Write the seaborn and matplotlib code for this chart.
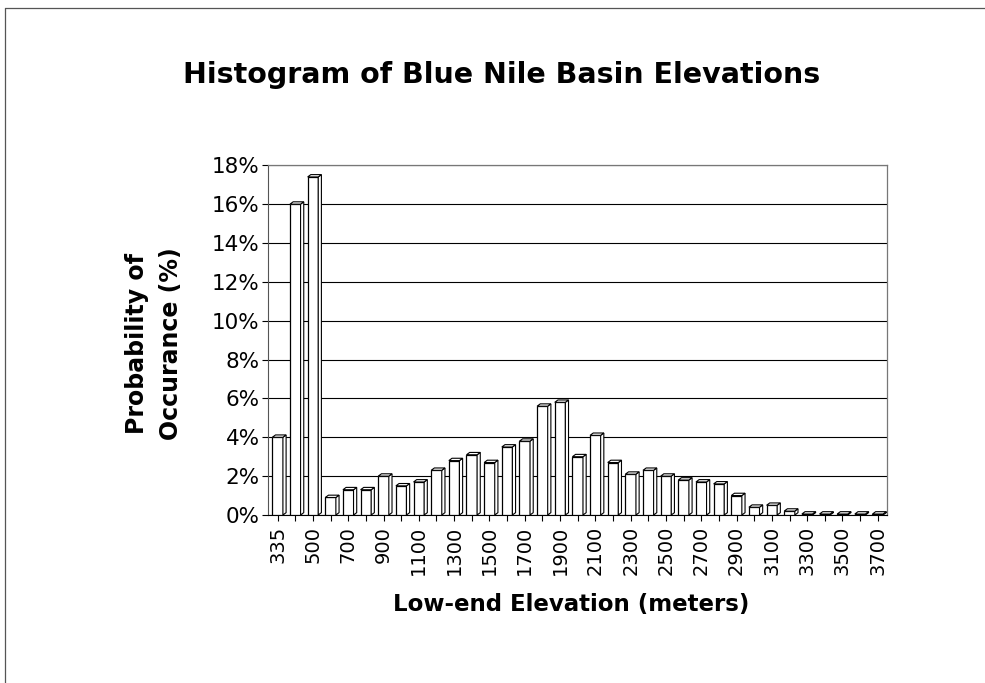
import pandas as pd
import matplotlib.pyplot as plt
import seaborn as sns
from matplotlib.patches import Polygon
from matplotlib.lines import Line2D
from matplotlib.ticker import FuncFormatter

# Dados (classes de elevação e probabilidade em %)
elevacoes = ['335', '400'] + [str(v) for v in range(500, 3800, 100)]
probabilidade = [4.0, 16.0, 17.4, 0.9, 1.3, 1.3, 2.0, 1.5, 1.7, 2.3,
                 2.8, 3.1, 2.7, 3.5, 3.8, 5.6, 5.8, 3.0, 4.1, 2.7,
                 2.1, 2.3, 2.0, 1.8, 1.7, 1.6, 1.0, 0.4, 0.5, 0.2,
                 0.05, 0.05, 0.05, 0.05, 0.05]
rotulos_x = [e if i % 2 == 0 else '' for i, e in enumerate(elevacoes)]
rotulos_y = list(range(0, 19, 2))

dados = pd.DataFrame({'elevacao': elevacoes, 'prob': probabilidade})

sns.set_style('white')
plt.rcParams['font.family'] = ['DejaVu Sans']
plt.rcParams['text.color'] = 'black'
plt.rcParams['axes.labelcolor'] = 'black'
plt.rcParams['xtick.color'] = 'black'
plt.rcParams['ytick.color'] = 'black'

fig = plt.figure(figsize=(9.85, 6.83), dpi=100)
ax = fig.add_axes([0.272, 0.246, 0.629, 0.512])

sns.barplot(data=dados, x='elevacao', y='prob', color='white', edgecolor='black',
            linewidth=0.9, width=0.6, ax=ax, zorder=3)

# Efeito 3D simples: face lateral e topo a partir das barras desenhadas
for p in ax.patches:
    x0, w, h = p.get_x(), p.get_width(), p.get_height()
    dx, dy = w * 0.3, 0.12
    lado = Polygon([(x0 + w, 0), (x0 + w + dx, dy), (x0 + w + dx, h + dy), (x0 + w, h)],
                   closed=True, facecolor='white', edgecolor='black', linewidth=0.8, zorder=3)
    topo = Polygon([(x0, h), (x0 + dx, h + dy), (x0 + w + dx, h + dy), (x0 + w, h)],
                   closed=True, facecolor='white', edgecolor='black', linewidth=0.8, zorder=3)
    ax.add_patch(lado)
    ax.add_patch(topo)

ax.set_ylim(0, 18)
ax.set_xlim(-0.55, len(elevacoes) - 0.45)
ax.set_yticks(rotulos_y)
ax.yaxis.set_major_formatter(FuncFormatter(lambda v, pos: f'{v:.0f}%'))
ax.set_xticks(range(len(elevacoes)))
ax.set_xticklabels(rotulos_x, rotation=90, fontsize=14)
ax.tick_params(axis='y', labelsize=15.5, length=4, pad=2, direction='out', left=True)
ax.tick_params(axis='x', length=4, pad=4, direction='out', bottom=True)

ax.grid(axis='y', color='black', linewidth=0.8, zorder=0)
for s in ['top', 'right']:
    ax.spines[s].set_visible(True)
    ax.spines[s].set_color('#777777')
    ax.spines[s].set_linewidth(0.9)
ax.spines['left'].set_color('#555555')
ax.spines['bottom'].set_color('black')

ax.set_xlabel('Low-end Elevation (meters)', fontsize=16.5, fontweight='bold')
ax.xaxis.set_label_coords(0.489, -0.223)
ax.set_ylabel('Probability of\nOccurance (%)', fontsize=17, fontweight='bold',
              linespacing=1.55)
ax.yaxis.set_label_coords(-0.137, 0.49)

fig.text(0.509, 0.89, 'Histogram of Blue Nile Basin Elevations', ha='center', va='center',
         fontsize=20.5, fontweight='bold')

# Moldura do gráfico (topo e esquerda)
fig.add_artist(Line2D([0.005, 1.0], [0.988, 0.988], color='#555555', linewidth=0.9))
fig.add_artist(Line2D([0.005, 0.005], [0.0, 0.988], color='#555555', linewidth=0.9))

fig.savefig('out.png', dpi=100)
